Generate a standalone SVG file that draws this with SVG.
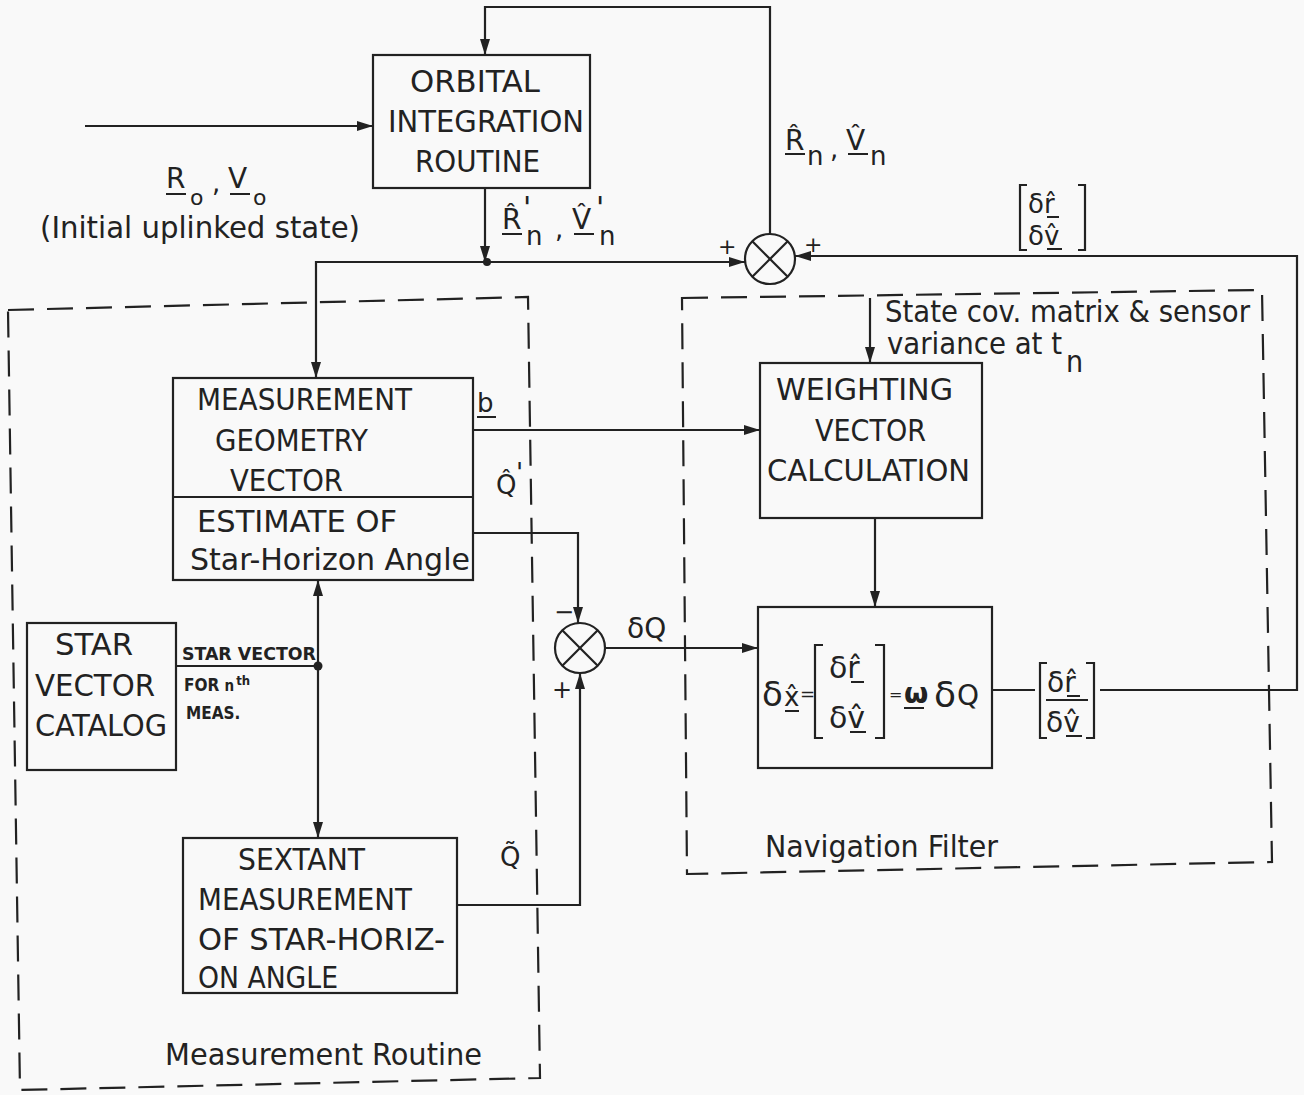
<svg xmlns="http://www.w3.org/2000/svg" width="1304" height="1095" viewBox="0 0 1304 1095">
<defs>
<style>
.bx{fill:none;stroke:#222;stroke-width:2.2}
.ln{fill:none;stroke:#222;stroke-width:2.2}
.ds{fill:none;stroke:#222;stroke-width:2.2;stroke-dasharray:26 13}
.t{font-family:"DejaVu Sans Condensed","Liberation Sans Narrow","DejaVu Sans",sans-serif;font-stretch:condensed;font-size:30px;fill:#222}
.m{font-family:"DejaVu Sans","Liberation Sans",sans-serif;font-size:28px;fill:#222}
.s{font-family:"DejaVu Sans Condensed","DejaVu Sans",sans-serif;font-stretch:condensed;font-weight:bold;font-size:17px;fill:#222}
.ul{stroke:#222;stroke-width:2}
</style>
<marker id="ah" viewBox="0 0 16 10" refX="16" refY="5" markerWidth="16" markerHeight="10" orient="auto" markerUnits="userSpaceOnUse"><path d="M0,0 L16,5 L0,10 z" fill="#222"/></marker>
</defs>
<rect width="1304" height="1095" fill="#f9f9f9"/>

<g id="measurement-routine-frame">
<path class="ds" d="M8,310 L528,297 L540,1078 L20,1090 Z"/>
<text class="t" x="165" y="1065" textLength="317" lengthAdjust="spacingAndGlyphs">Measurement Routine</text>
</g>
<g id="navigation-filter-frame">
<path class="ds" d="M682,298 L1262,290 L1272,862 L687,874 Z"/>
<text class="t" x="765" y="857" textLength="233" lengthAdjust="spacingAndGlyphs">Navigation Filter</text>
</g>

<g id="orbital-integration">
<rect class="bx" x="373" y="55" width="217" height="133"/>
<text class="t" x="410" y="92" textLength="130" lengthAdjust="spacingAndGlyphs">ORBITAL</text>
<text class="t" x="388" y="132" textLength="196" lengthAdjust="spacingAndGlyphs">INTEGRATION</text>
<text class="t" x="415" y="172" textLength="125" lengthAdjust="spacingAndGlyphs">ROUTINE</text>
</g>

<g id="measurement-geometry">
<rect class="bx" x="173" y="378" width="300" height="202"/>
<line class="ln" x1="173" y1="497" x2="473" y2="497"/>
<text class="t" x="197" y="410" textLength="215" lengthAdjust="spacingAndGlyphs">MEASUREMENT</text>
<text class="t" x="215" y="451" textLength="153" lengthAdjust="spacingAndGlyphs">GEOMETRY</text>
<text class="t" x="230" y="491" textLength="113" lengthAdjust="spacingAndGlyphs">VECTOR</text>
<text class="t" x="197" y="532" textLength="200" lengthAdjust="spacingAndGlyphs">ESTIMATE  OF</text>
<text class="t" x="190" y="570" textLength="280" lengthAdjust="spacingAndGlyphs">Star-Horizon Angle</text>
</g>

<g id="star-catalog">
<rect class="bx" x="27" y="623" width="149" height="147"/>
<text class="t" x="55" y="655" textLength="78" lengthAdjust="spacingAndGlyphs">STAR</text>
<text class="t" x="35" y="696" textLength="120" lengthAdjust="spacingAndGlyphs">VECTOR</text>
<text class="t" x="35" y="736" textLength="132" lengthAdjust="spacingAndGlyphs">CATALOG</text>
</g>

<g id="sextant">
<rect class="bx" x="183" y="838" width="274" height="155"/>
<text class="t" x="238" y="870" textLength="127" lengthAdjust="spacingAndGlyphs">SEXTANT</text>
<text class="t" x="198" y="910" textLength="214" lengthAdjust="spacingAndGlyphs">MEASUREMENT</text>
<text class="t" x="198" y="950" textLength="247" lengthAdjust="spacingAndGlyphs">OF STAR-HORIZ-</text>
<text class="t" x="198" y="988" textLength="140" lengthAdjust="spacingAndGlyphs">ON ANGLE</text>
</g>

<g id="weighting">
<rect class="bx" x="760" y="363" width="222" height="155"/>
<text class="t" x="776" y="400" textLength="177" lengthAdjust="spacingAndGlyphs">WEIGHTING</text>
<text class="t" x="815" y="441" textLength="111" lengthAdjust="spacingAndGlyphs">VECTOR</text>
<text class="t" x="767" y="481" textLength="203" lengthAdjust="spacingAndGlyphs">CALCULATION</text>
</g>

<g id="filter-update">
<rect class="bx" x="758" y="607" width="234" height="161"/>
<text class="m" x="762" y="706" style="font-size:34px">δ</text>
<text class="m" x="784" y="706" style="font-size:26px">x&#x302;</text>
<line class="ul" x1="785" y1="711" x2="799" y2="711"/>
<text class="m" x="800" y="700" style="font-size:18px">=</text>
<path class="ln" d="M823,645 H815 V738 H823"/>
<text class="m" x="829" y="678" style="font-size:30px">δr&#x302;</text>
<line class="ul" x1="851" y1="682" x2="864" y2="682"/>
<text class="m" x="829" y="728" style="font-size:30px">δv&#x302;</text>
<line class="ul" x1="850" y1="732" x2="866" y2="732"/>
<path class="ln" d="M875,645 H884 V738 H875"/>
<text class="m" x="889" y="700" style="font-size:16px">=</text>
<text class="m" x="904" y="703" style="font-size:28px;font-weight:bold">ω</text>
<line class="ul" x1="904" y1="708" x2="924" y2="708"/>
<text class="m" x="934" y="707" style="font-size:36px">δ</text>
<text class="m" x="957" y="705" style="font-size:28px">Q</text>
</g>

<g id="junction-sum1">
<circle class="bx" cx="770" cy="259" r="25"/>
<line class="ln" x1="752.3" y1="241.3" x2="787.7" y2="276.7"/>
<line class="ln" x1="787.7" y1="241.3" x2="752.3" y2="276.7"/>
<text class="m" x="718" y="254" style="font-size:22px">+</text>
<text class="m" x="804" y="252" style="font-size:22px">+</text>
</g>

<g id="junction-sum2">
<circle class="bx" cx="580" cy="648" r="25"/>
<line class="ln" x1="562.3" y1="630.3" x2="597.7" y2="665.7"/>
<line class="ln" x1="597.7" y1="630.3" x2="562.3" y2="665.7"/>
<text class="m" x="554" y="620" style="font-size:24px">−</text>
<text class="m" x="552" y="698" style="font-size:24px">+</text>
</g>

<g id="connectors">
<path class="ln" d="M85,126 H373" marker-end="url(#ah)"/>
<path class="ln" d="M770,234 V7 H485 V55" marker-end="url(#ah)"/>
<path class="ln" d="M485,188 V262" marker-end="url(#ah)"/>
<path class="ln" d="M487,262 H745" marker-end="url(#ah)"/>
<path class="ln" d="M487,262 H316 V378" marker-end="url(#ah)"/>
<circle cx="487" cy="262" r="4" fill="#222"/>
<path class="ln" d="M1100,690 H1297 V256 H795" marker-end="url(#ah)"/>
<path class="ln" d="M992,690 H1035"/>
<path class="ln" d="M473,430 H760" marker-end="url(#ah)"/>
<path class="ln" d="M473,533 H578 V623" marker-end="url(#ah)"/>
<path class="ln" d="M457,905 H580 V673" marker-end="url(#ah)"/>
<path class="ln" d="M605,648 H758" marker-end="url(#ah)"/>
<path class="ln" d="M176,666 H318"/>
<circle cx="318" cy="666" r="4.5" fill="#222"/>
<path class="ln" d="M318,666 V580" marker-end="url(#ah)"/>
<path class="ln" d="M318,666 V838" marker-end="url(#ah)"/>
<path class="ln" d="M870,298 V363" marker-end="url(#ah)"/>
<path class="ln" d="M875,518 V607" marker-end="url(#ah)"/>
</g>

<g id="labels">
<text class="m" x="166" y="188" style="font-size:28px">R</text>
<line class="ul" x1="166" y1="194" x2="186" y2="194"/>
<text class="m" x="190" y="205" style="font-size:22px">o</text>
<text class="m" x="212" y="192" style="font-size:26px">,</text>
<text class="m" x="228" y="188" style="font-size:28px">V</text>
<line class="ul" x1="230" y1="194" x2="250" y2="194"/>
<text class="m" x="253" y="205" style="font-size:22px">o</text>
<text class="t" x="40" y="238" textLength="320" lengthAdjust="spacingAndGlyphs">(Initial uplinked state)</text>

<text class="m" x="502" y="229" style="font-size:28px">R&#x302;</text>
<line class="ul" x1="502" y1="234" x2="522" y2="234"/>
<text class="m" x="523" y="218" style="font-size:30px">'</text>
<text class="m" x="526" y="245" style="font-size:26px">n</text>
<text class="m" x="555" y="238" style="font-size:26px">,</text>
<text class="m" x="572" y="229" style="font-size:28px">V&#x302;</text>
<line class="ul" x1="574" y1="234" x2="594" y2="234"/>
<text class="m" x="596" y="218" style="font-size:30px">'</text>
<text class="m" x="599" y="245" style="font-size:26px">n</text>

<text class="m" x="785" y="150" style="font-size:28px">R&#x302;</text>
<line class="ul" x1="785" y1="154" x2="805" y2="154"/>
<text class="m" x="807" y="165" style="font-size:26px">n</text>
<text class="m" x="830" y="158" style="font-size:26px">,</text>
<text class="m" x="846" y="150" style="font-size:28px">V&#x302;</text>
<line class="ul" x1="848" y1="154" x2="868" y2="154"/>
<text class="m" x="870" y="165" style="font-size:26px">n</text>

<path class="ln" d="M1027,185 H1020 V250 H1027"/>
<path class="ln" d="M1078,185 H1085 V250 H1078"/>
<text class="m" x="1028" y="213" style="font-size:26px">δr&#x302;</text>
<line class="ul" x1="1047" y1="217" x2="1059" y2="217"/>
<text class="m" x="1028" y="245" style="font-size:26px">δv&#x302;</text>
<line class="ul" x1="1047" y1="249" x2="1062" y2="249"/>

<path class="ln" d="M1047,663 H1040 V738 H1047"/>
<path class="ln" d="M1086,663 H1094 V738 H1086"/>
<text class="m" x="1047" y="692" style="font-size:28px">δr&#x302;</text>
<line class="ul" x1="1067" y1="696" x2="1080" y2="696"/>
<line class="ln" x1="1046" y1="700" x2="1088" y2="700"/>
<text class="m" x="1046" y="732" style="font-size:28px">δv&#x302;</text>
<line class="ul" x1="1066" y1="736" x2="1082" y2="736"/>

<text class="m" x="477" y="412" style="font-size:26px">b</text>
<line class="ul" x1="477" y1="417" x2="496" y2="417"/>
<text class="m" x="496" y="494" style="font-size:26px">Q&#x302;</text>
<text class="m" x="516" y="482" style="font-size:26px">'</text>
<text class="m" x="500" y="866" style="font-size:26px">Q&#x303;</text>
<text class="m" x="627" y="638" style="font-size:28px">δQ</text>

<text class="s" x="182" y="660" textLength="134" lengthAdjust="spacingAndGlyphs">STAR VECTOR</text>
<text class="s" x="184" y="691">FOR <tspan style="font-size:15px">n</tspan><tspan dx="2" dy="-6" style="font-size:13px">th</tspan></text>
<text class="s" x="186" y="719">MEAS.</text>

<text class="t" x="885" y="322" textLength="365" lengthAdjust="spacingAndGlyphs">State cov. matrix &amp; sensor</text>
<text class="t" x="887" y="354" textLength="175" lengthAdjust="spacingAndGlyphs">variance at t</text>
<text class="t" x="1066" y="372">n</text>
</g>
</svg>
